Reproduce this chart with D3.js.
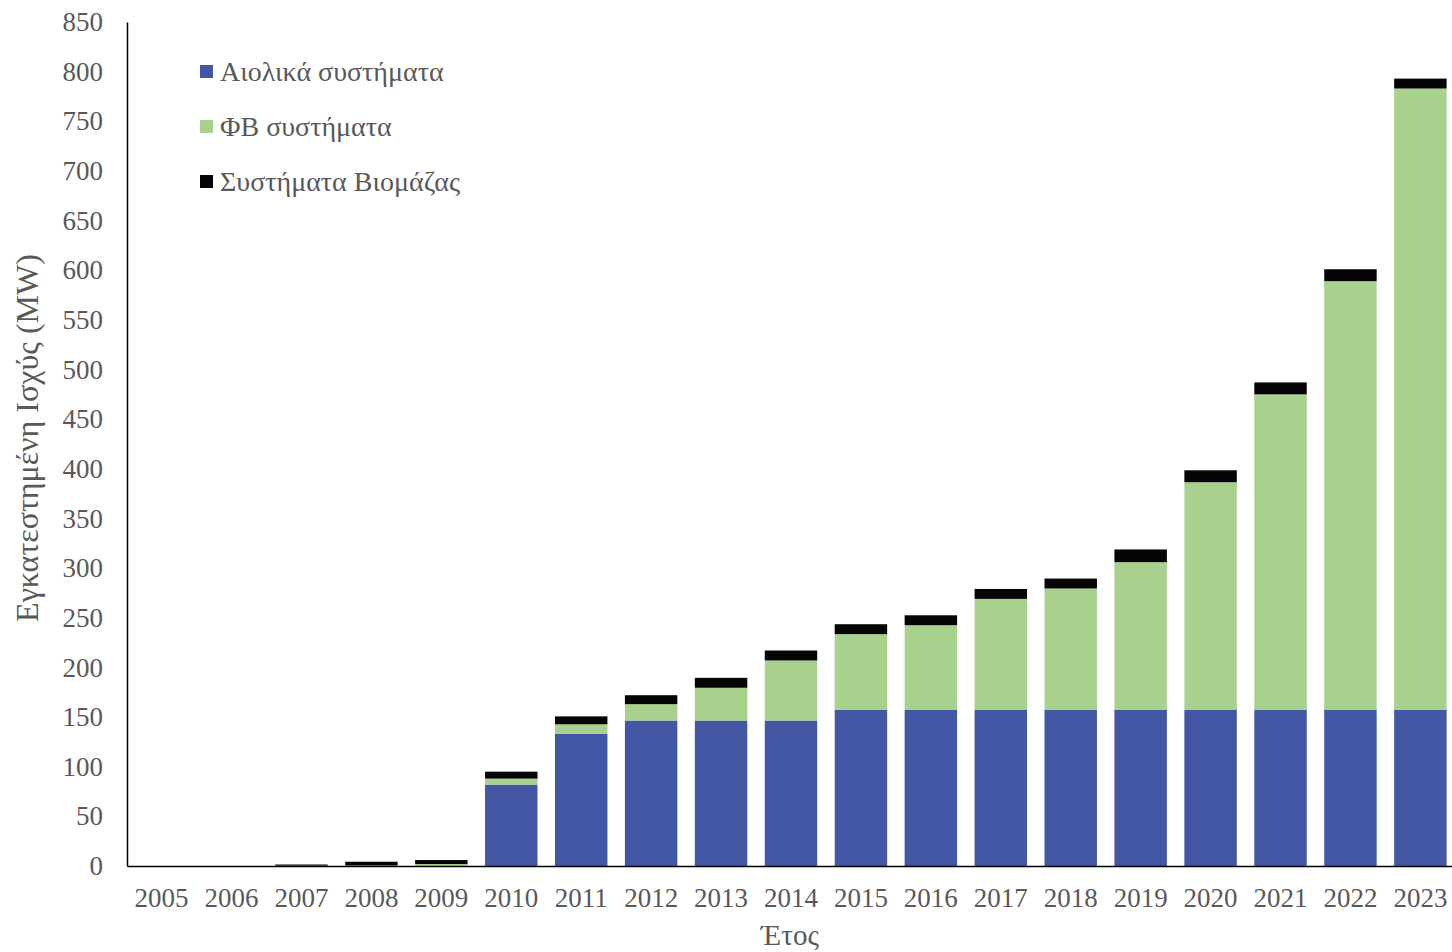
<!DOCTYPE html>
<html>
<head>
<meta charset="utf-8">
<script src="https://cdn.jsdelivr.net/npm/d3@7"></script>
<style>
  body { margin: 0; background: #fff; }
  svg text { font-family: "Liberation Serif", "DejaVu Serif", serif; }
</style>
</head>
<body>
<svg></svg>
<script>
const YEARS = ["2005","2006","2007","2008","2009","2010","2011","2012","2013","2014",
  "2015","2016","2017","2018","2019","2020","2021","2022","2023"];
const WIND = [0, 0, 0, 0, 0, 82, 133, 146.5, 146.5, 146.5, 157.5, 157.5, 157.5, 157.5, 157.5, 157.5, 157.5, 157.5, 157.5];
const PV = [0, 0, 0.3, 0.5, 2, 6, 9.7, 16.5, 33, 60.5, 76, 85, 111.5, 122, 148.5, 229, 317.5, 431.5, 625.5];
const BIO = [0, 0, 1.2, 3.8, 4, 7, 8, 9, 10, 10, 10, 10, 10, 10, 12.8, 12, 12, 12, 10];
const SERIES = ["Αιολικά συστήματα", "ΦΒ συστήματα", "Συστήματα Βιομάζας"];
const Y_TICKS = d3.range(0, 851, 50);

const width = 1452, height = 952;
const margin = { top: 22, right: -3, bottom: 86, left: 127 };
const colors = ["#4357a5", "#a9d18e", "#050505"];

const svg = d3.select("svg")
  .attr("width", width)
  .attr("height", height);

const table = YEARS.map((y, i) => ({ year: y, wind: WIND[i], pv: PV[i], bio: BIO[i] }));
const stack = d3.stack().keys(["wind", "pv", "bio"])(table);

const xScale = d3.scaleBand()
  .domain(YEARS)
  .range([margin.left, width - margin.right])
  .paddingInner(0.25)
  .paddingOuter(0.12);

const yScale = d3.scaleLinear()
  .domain([0, 850])
  .range([height - margin.bottom, margin.top]);

// Bars
svg.append("g").selectAll("g")
  .data(stack)
  .join("g")
  .attr("fill", (d, i) => colors[i])
  .selectAll("rect")
  .data(d => d)
  .join("rect")
  .attr("x", d => xScale(d.data.year))
  .attr("y", d => yScale(d[1]))
  .attr("width", xScale.bandwidth())
  .attr("height", d => Math.max(0, yScale(d[0]) - yScale(d[1])));

// Y axis
const yAxis = svg.append("g")
  .attr("transform", `translate(${margin.left},0)`)
  .call(d3.axisLeft(yScale).tickValues(Y_TICKS).tickSize(0).tickPadding(24));
yAxis.select(".domain").attr("stroke", "#000").attr("stroke-width", 1.5);
yAxis.selectAll("text")
  .attr("fill", "#595959")
  .style("font-size", "27px");

// X axis
const xAxis = svg.append("g")
  .attr("transform", `translate(0,${height - margin.bottom})`)
  .call(d3.axisBottom(xScale).tickSize(0).tickPadding(22).tickSizeOuter(0));
xAxis.select(".domain").attr("stroke", "#000").attr("stroke-width", 1.5);
xAxis.selectAll("text")
  .attr("fill", "#595959")
  .style("font-size", "27px");

// Axis titles
svg.append("text")
  .attr("transform", `translate(38,${(margin.top + height - margin.bottom) / 2 - 6}) rotate(-90)`)
  .attr("text-anchor", "middle")
  .attr("fill", "#595959")
  .style("font-size", "32px")
  .text("Εγκατεστημένη Ισχύς (MW)");

svg.append("text")
  .attr("x", 790)
  .attr("y", 945)
  .attr("text-anchor", "middle")
  .attr("fill", "#595959")
  .style("font-size", "29px")
  .text("Έτος");

// Legend
const legend = svg.append("g").attr("transform", "translate(200,72)");
const item = legend.selectAll("g")
  .data(SERIES)
  .join("g")
  .attr("transform", (d, i) => `translate(0,${i * 55})`);
item.append("rect")
  .attr("x", 0).attr("y", -7)
  .attr("width", 13).attr("height", 13)
  .attr("fill", (d, i) => colors[i]);
item.append("text")
  .attr("x", 20).attr("y", 9)
  .attr("fill", "#595959")
  .style("font-size", "28px")
  .text(d => d);
</script>
</body>
</html>
